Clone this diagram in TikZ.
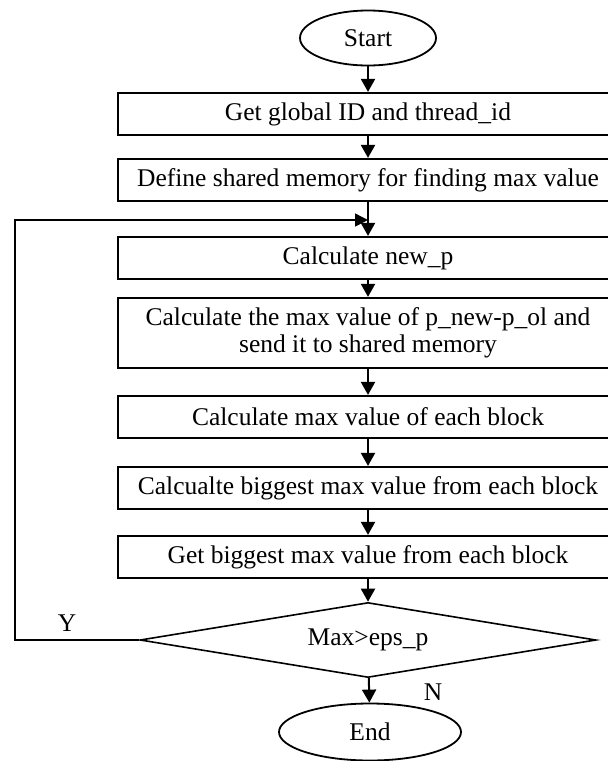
\documentclass[tikz,border=0pt]{standalone}
\usepackage{fontspec}
\setmainfont{Liberation Serif}
\usetikzlibrary{arrows.meta,shapes.geometric}
\begin{document}
\begin{tikzpicture}[x=1pt,y=-1pt]
\tikzset{
  txt/.style={font=\fontsize{25.5}{27}\selectfont},
  procbox/.style={txt, draw, line width=2.2pt, minimum width=500pt,
    minimum height=42pt, inner sep=0pt, align=center},
  termnode/.style={txt, draw, ellipse, line width=1.8pt, inner sep=0pt},
  decnode/.style={txt, draw, diamond, line width=1.6pt, inner sep=0pt,
    minimum width=456pt, minimum height=75pt, aspect=6},
  flow/.style={line width=2pt, -{Triangle[length=13pt,width=14pt]}},
  backflow/.style={line width=1.5pt, -{Triangle[length=13pt,width=13pt]}},
}
\useasboundingbox (0,0) rectangle (608,761);
\clip (0,0) rectangle (608,761);
\fill[white] (0,0) rectangle (608,761);

\node[termnode, minimum width=136pt, minimum height=55pt] (start) at (368,38) {Start};
\node[procbox] (b1) at (368,114) {Get global ID and thread\_id};
\node[procbox] (b2) at (368,180) {Define shared memory for finding max value};
\node[procbox] (b3) at (368,258) {Calculate new\_p};
\node[procbox, minimum height=70pt] (b4) at (368,333)
  {Calculate the max value of p\_new-p\_ol and\\send it to shared memory};
\node[procbox] (b5) at (368,417) {Calculate max value of each block};
\node[procbox] (b6) at (368,488) {Calcualte biggest max value from each block};
\node[procbox] (b7) at (368,557) {Get biggest max value from each block};
\node[decnode] (dec) at (368,640) {Max>eps\_p};
\node[termnode, minimum width=182pt, minimum height=57pt] (end) at (370,732) {End};

\coordinate (corner) at (15,220);
\coordinate (join) at (368,220);

\draw[flow] (start) -- (b1);
\draw[flow] (b1) -- (b2);
\draw[flow] (b2) -- (b3);
\draw[flow] (b3) -- (b4);
\draw[flow] (b4) -- (b5);
\draw[flow] (b5) -- (b6);
\draw[flow] (b6) -- (b7);
\draw[flow] (b7) -- (dec);
\draw[flow] (dec) -- (end);
\draw[backflow] (dec.west) -| (corner) -- (join);

\node[txt] (ylab) at (67,623) {Y};
\node[txt] (nlab) at (433,692) {N};
\end{tikzpicture}
\end{document}
